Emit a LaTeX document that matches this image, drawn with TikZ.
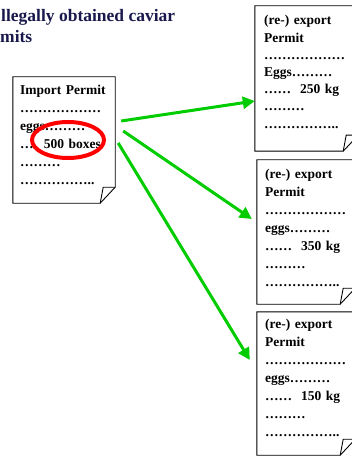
\documentclass[tikz,border=0pt]{standalone}
\usepackage{fontspec}
\setmainfont{Liberation Serif}
\usetikzlibrary{arrows.meta,shapes.geometric}

\definecolor{titleblue}{RGB}{24,24,76}
\definecolor{arrowgreen}{RGB}{0,204,0}

\tikzset{
  headline/.style={anchor=base west,inner sep=0pt,text=titleblue,
    font=\bfseries\fontsize{17.5}{21}\selectfont},
  docpage/.style={rectangle,draw=none,inner sep=0pt},
  doctext/.style={anchor=base west,inner sep=0pt,text width=92pt,align=left,
    font=\bfseries\fontsize{13.5}{#1}\selectfont},
  doctext/.default=18pt,
  docline/.style={line width=0.9pt,line join=miter},
  sendarrow/.style={arrowgreen,line width=3pt,-{Triangle[length=12pt,width=12pt]}},
}

% page with a folded lower right corner
\newcommand{\pageoutline}[1]{%
  \draw[docline,fill=white] (#1.north west) -- (#1.north east)
    -- ([yshift=16pt]#1.south east) -- ([xshift=-15pt]#1.south east)
    -- (#1.south west) -- cycle;
  \draw[docline] ([yshift=16pt]#1.south east) -- ([shift={(-12pt,16pt)}]#1.south east)
    -- ([xshift=-15pt]#1.south east);
}

\begin{document}
\begin{tikzpicture}[x=1pt,y=1pt]
  \useasboundingbox (0,0) rectangle (352,-457);
  \clip (0,0) rectangle (352,-457);

  % title (cut off at the left)
  \node[headline] (head1) at (1,-22) {llegally obtained caviar};
  \node[headline] (head2) at (0,-43) {mits};

  % import permit
  \node[docpage,minimum width=102pt,minimum height=126pt] (imp) at (64,-140) {};
  \pageoutline{imp}
  \node[doctext] (imptext) at (20,-95)
    {Import Permit\\ ………………\\ eggs………\\ …. 500 boxes\\ ………\\ ……………..};
  \node[draw=red,line width=4pt,ellipse,minimum width=72pt,minimum height=36pt]
    (mark) at (68,-140) {};

  % (re-) export permits
  \node[docpage,minimum width=103pt,minimum height=145pt] (exp1) at (306.5,-78.5) {};
  \node[docpage,minimum width=98pt,minimum height=144pt] (exp2) at (306,-232) {};
  \node[docpage,minimum width=98pt,minimum height=143pt] (exp3) at (306,-383.5) {};
  \pageoutline{exp1}
  \pageoutline{exp2}
  \pageoutline{exp3}
  \node[doctext=17.2pt] (exptext1) at (264,-25)
    {(re-) export\\ Permit\\ ………………\\ Eggs………\\ ……\ \ 250 kg\\ ………\\ ……………..};
  \node[doctext] (exptext2) at (265,-178)
    {(re-) export\\ Permit\\ ………………\\ eggs………\\ ……\ \ 350 kg\\ ………\\ ……………..};
  \node[doctext] (exptext3) at (265,-328)
    {(re-) export\\ Permit\\ ………………\\ eggs………\\ ……\ \ 150 kg\\ ………\\ ……………..};

  % arrows
  \draw[sendarrow] ([shift={(6,19)}]imp.east) -- ([yshift=-22.5pt]exp1.west);
  \draw[sendarrow] ([shift={(8,9)}]imp.east) -- ([shift={(-5,13)}]exp2.west);
  \draw[sendarrow] ([shift={(3,-3)}]imp.east) -- ([shift={(-7,23.5)}]exp3.west);
\end{tikzpicture}
\end{document}
